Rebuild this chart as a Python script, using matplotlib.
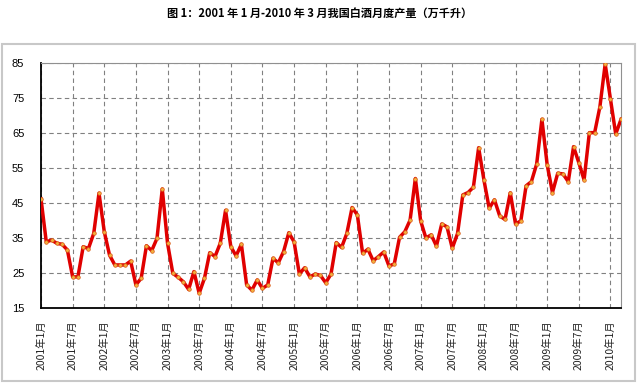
import numpy as np
import matplotlib
matplotlib.use("Agg")
from matplotlib import pyplot as plt
from matplotlib.patches import Rectangle

# 月度产量（万千升），2001年1月 - 2010年3月
output = [
    46.2, 33.9, 34.4, 33.5, 33.2, 31.6, 23.9, 23.9, 32.5, 32.0, 36.3, 47.8,   # 2001
    36.8, 30.1, 27.3, 27.3, 27.3, 28.4, 21.6, 23.5, 32.8, 31.4, 34.9, 49.0,   # 2002
    33.5, 24.9, 23.8, 22.5, 20.3, 25.4, 19.2, 23.5, 30.8, 29.7, 33.5, 42.9,   # 2003
    32.5, 29.9, 33.2, 21.6, 20.1, 23.0, 20.6, 21.6, 29.2, 27.9, 31.1, 36.5,   # 2004
    33.9, 24.7, 26.5, 23.9, 24.7, 24.3, 22.2, 24.7, 33.7, 32.3, 36.3, 43.7,   # 2005
    41.6, 30.6, 31.8, 28.5, 29.7, 31.0, 27.0, 27.6, 35.2, 36.8, 40.1, 52.0,   # 2006
    39.9, 35.0, 35.9, 32.7, 39.0, 38.2, 32.1, 36.3, 47.3, 48.0, 49.5, 60.8,   # 2007
    51.6, 43.5, 45.9, 41.3, 40.3, 47.9, 39.0, 39.9, 49.9, 51.1, 56.1, 68.9,   # 2008
    55.9, 48.0, 53.5, 53.3, 51.1, 61.1, 56.5, 51.6, 65.1, 65.1, 72.5, 84.7,   # 2009
    74.7, 64.7, 68.9,                                                         # 2010
]
tick_months = list(range(0, 109, 6))
tick_labels = [f"{2001 + m // 12}年{m % 12 + 1}月" for m in tick_months]
y_ticks = [15, 25, 35, 45, 55, 65, 75, 85]

cjk = ["Noto Sans CJK SC", "DejaVu Sans"]

fig = plt.figure(figsize=(6.4, 3.83), dpi=100, facecolor="white")

# 外框
fig.patches.append(Rectangle((2 / 640, 2 / 383), 633 / 640, 337 / 383,
                             transform=fig.transFigure, fill=False,
                             edgecolor="#c8c8c8", linewidth=1.5))

fig.text(0.5, 1 - 13 / 383, "图 1：2001 年 1 月-2010 年 3 月我国白酒月度产量（万千升）",
         ha="center", va="center", fontsize=8, fontweight="bold", family=cjk)

ax = fig.add_axes([41 / 640, 75 / 383, 580 / 640, 245 / 383])
months = np.arange(len(output))
ax.plot(months, output, color="#e00000", linewidth=2.5, marker="o",
        markersize=2.6, markerfacecolor="#f4b03c", markeredgecolor="#d85a1a",
        markeredgewidth=0.5, zorder=3)

ax.set_xlim(0, len(output) - 1)
ax.set_ylim(15, 85)
ax.set_yticks(y_ticks)
ax.set_yticklabels([str(v) for v in y_ticks], family="Liberation Sans", fontsize=8)
ax.set_xticks(tick_months)
ax.set_xticklabels(tick_labels, rotation=90, family=cjk, fontsize=7.5,
                   color="#222222")
ax.tick_params(axis="y", length=0, pad=12)
ax.tick_params(axis="x", length=0, pad=9)

ax.grid(True, color="#808080", linestyle=(0, (4, 3)), linewidth=0.8)
ax.set_axisbelow(True)

for side in ("left", "bottom"):
    ax.spines[side].set_color("black")
    ax.spines[side].set_linewidth(1.3)
for side in ("top", "right"):
    ax.spines[side].set_color("#909090")
    ax.spines[side].set_linewidth(0.8)

fig.savefig("out.png", dpi=100, facecolor="white")
